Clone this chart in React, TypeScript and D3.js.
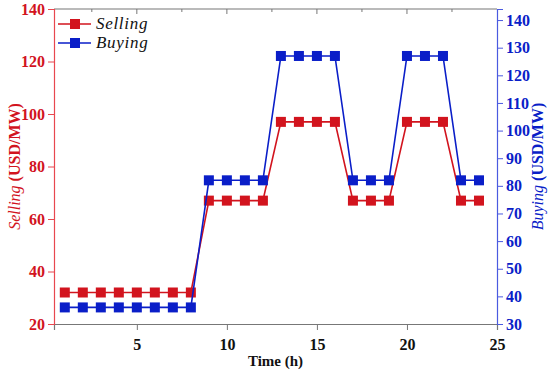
import React, { useEffect, useRef } from "react"
import * as d3 from "d3"

const hours = [1, 2, 3, 4, 5, 6, 7, 8, 9, 10, 11, 12, 13, 14, 15, 16, 17, 18, 19, 20, 21, 22, 23, 24]
const selling = [32, 32, 32, 32, 32, 32, 32, 32, 67, 67, 67, 67, 97, 97, 97, 97, 67, 67, 67, 97, 97, 97, 67, 67]
const buying = [36, 36, 36, 36, 36, 36, 36, 36, 82, 82, 82, 82, 127, 127, 127, 127, 82, 82, 82, 127, 127, 127, 82, 82]
const xTicks = [5, 10, 15, 20, 25]
const leftTicks = [20, 40, 60, 80, 100, 120, 140]
const rightTicks = [30, 40, 50, 60, 70, 80, 90, 100, 110, 120, 130, 140]

const RED = "#d2141e"
const BLUE = "#0a1ec8"
const RED_AXIS = "#e8474f"
const BLUE_AXIS = "#4a5ae0"
const FONT = "Liberation Serif, DejaVu Serif, serif"

const W = 550
const H = 376
const m = { left: 54, right: 497, top: 9, bottom: 324 }

const App = () => {
  const ref = useRef<SVGSVGElement>(null)

  useEffect(() => {
    const svg = d3.select(ref.current)
    svg.selectAll("*").remove()

    const x = d3.scaleLinear().domain([0.4, 25]).range([m.left, m.right])
    const yL = d3.scaleLinear().domain([20, 140]).range([m.bottom, m.top])
    const yR = d3.scaleLinear().domain([30, 144]).range([m.bottom, m.top])

    // top frame line with inward ticks
    svg.append("line")
      .attr("x1", m.left).attr("x2", m.right)
      .attr("y1", m.top).attr("y2", m.top)
      .attr("stroke", "#777").attr("stroke-width", 1.2)
    d3.range(2.5, 25, 2.5).forEach((t) => {
      svg.append("line")
        .attr("x1", x(t)).attr("x2", x(t))
        .attr("y1", m.top).attr("y2", m.top + (t % 5 === 0 ? 5 : 3))
        .attr("stroke", "#777")
    })

    // bottom axis
    const xAxis = svg.append("g").attr("transform", `translate(0,${m.bottom})`)
    xAxis.call(
      d3.axisBottom(x).tickValues(d3.range(2.5, 25.1, 2.5)).tickSize(4).tickFormat(() => "")
    )
    xAxis.call(
      d3.axisBottom(x).tickValues(xTicks).tickSize(6).tickFormat(d3.format("d"))
    )
    xAxis.selectAll("path").attr("stroke", "#777").attr("stroke-width", 1.2)
    xAxis.selectAll("line").attr("stroke", "#777")
    xAxis.selectAll("text")
      .style("font-family", FONT).attr("font-weight", "bold")
      .attr("font-size", 16).attr("fill", "#111").attr("dy", "1.05em")

    // left axis
    const lAxis = svg.append("g").attr("transform", `translate(${m.left},0)`)
    lAxis.call(d3.axisLeft(yL).tickValues(d3.range(30, 140, 20)).tickSize(3).tickFormat(() => ""))
    lAxis.call(d3.axisLeft(yL).tickValues(leftTicks).tickSize(6).tickFormat(d3.format("d")))
    lAxis.selectAll("path").attr("stroke", RED_AXIS).attr("stroke-width", 1.2)
    lAxis.selectAll("line").attr("stroke", RED_AXIS)
    lAxis.selectAll("text")
      .style("font-family", FONT).attr("font-weight", "bold")
      .attr("font-size", 16).attr("fill", RED)

    // right axis
    const rAxis = svg.append("g").attr("transform", `translate(${m.right},0)`)
    rAxis.call(d3.axisRight(yR).tickValues(d3.range(35, 144, 10)).tickSize(3).tickFormat(() => ""))
    rAxis.call(d3.axisRight(yR).tickValues(rightTicks).tickSize(6).tickFormat(d3.format("d")))
    rAxis.selectAll("path").attr("stroke", BLUE_AXIS).attr("stroke-width", 1.2)
    rAxis.selectAll("line").attr("stroke", BLUE_AXIS)
    rAxis.selectAll("text")
      .style("font-family", FONT).attr("font-weight", "bold")
      .attr("font-size", 16).attr("fill", BLUE)

    // series
    const series = [
      { vals: selling, y: yL, color: RED },
      { vals: buying, y: yR, color: BLUE },
    ]
    series.forEach((s) => {
      const line = d3.line<number>().x((d, i) => x(hours[i])).y((d) => s.y(d))
      svg.append("path")
        .attr("d", line(s.vals))
        .attr("fill", "none").attr("stroke", s.color).attr("stroke-width", 1.6)
      svg.append("g").selectAll("rect").data(s.vals).join("rect")
        .attr("x", (d, i) => x(hours[i]) - 5)
        .attr("y", (d) => s.y(d) - 5)
        .attr("width", 10).attr("height", 10)
        .attr("fill", s.color)
    })

    // legend
    const legend = [
      { name: "Selling", color: RED },
      { name: "Buying", color: BLUE },
    ]
    legend.forEach((l, i) => {
      const ly = 24 + i * 19
      const g = svg.append("g")
      g.append("line").attr("x1", 58).attr("x2", 91).attr("y1", ly).attr("y2", ly)
        .attr("stroke", l.color).attr("stroke-width", 1.6)
      g.append("rect").attr("x", 70).attr("y", ly - 5).attr("width", 10).attr("height", 10)
        .attr("fill", l.color)
      g.append("text").attr("x", 96).attr("y", ly + 5)
        .style("font-family", FONT).attr("font-style", "italic")
        .attr("font-size", 17).attr("letter-spacing", 0.7).attr("fill", "#111").text(l.name)
    })

    // axis titles
    svg.append("text")
      .attr("transform", `translate(20,${(m.top + m.bottom) / 2}) rotate(-90)`)
      .attr("text-anchor", "middle")
      .style("font-family", FONT).attr("font-size", 16).attr("fill", RED)
      .call((t) => {
        t.append("tspan").attr("font-style", "italic").text("Selling")
        t.append("tspan").attr("font-weight", "bold").text(" (USD/MW)")
      })

    svg.append("text")
      .attr("transform", `translate(543,${(m.top + m.bottom) / 2}) rotate(-90)`)
      .attr("text-anchor", "middle")
      .style("font-family", FONT).attr("font-size", 16).attr("fill", BLUE)
      .call((t) => {
        t.append("tspan").attr("font-style", "italic").text("Buying")
        t.append("tspan").attr("font-weight", "bold").text(" (USD/MW)")
      })

    svg.append("text")
      .attr("x", (m.left + m.right) / 2).attr("y", 366)
      .attr("text-anchor", "middle")
      .style("font-family", FONT).attr("font-weight", "bold")
      .attr("font-size", 15).attr("fill", "#111")
      .text("Time (h)")
  }, [])

  return (
    <svg
      ref={ref}
      width={W}
      height={H}
      style={{ position: "absolute", left: 0, top: 0, background: "#fff" }}
    />
  )
}

export default App
